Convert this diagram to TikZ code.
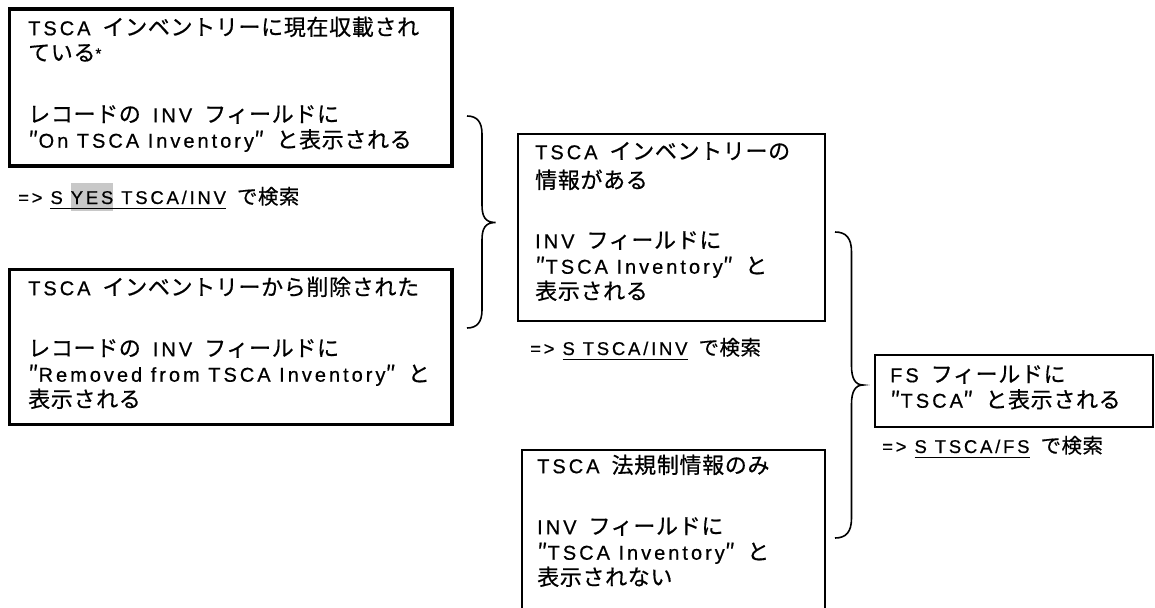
\documentclass[tikz,border=0pt]{standalone}
\usepackage{fontspec}
\setmainfont{Liberation Sans}[LetterSpace=15,FakeBold=0.6]
\newfontfamily\jpf{Noto Sans CJK JP}[Scale=1.1,LetterSpace=3,FakeBold=0.6]
\newcommand\J[1]{{\jpf #1}}
\newcommand\gp{\hspace{0.6em}}
\definecolor{hlgray}{RGB}{200,200,200}
\newcommand\ulx[1]{\setbox0\hbox{#1}\copy0\llap{\rule[-5.2pt]{\wd0}{1.6pt}}}
\newcommand\hlx[1]{\setbox2\hbox{#1}\rlap{\color{hlgray}\rule[-7pt]{\wd2}{28pt}}\box2\relax}
\tikzset{
  thickbox/.style={draw=black, line width=3.8pt, inner sep=0pt, outer sep=0pt, anchor=north west},
  thinbox/.style={draw=black, line width=1.8pt, inner sep=0pt, outer sep=0pt, anchor=north west},
  boxtext/.style={anchor=north west, inner sep=0pt, align=left, font=\fontsize{20}{25.5}\selectfont},
  searchtext/.style={anchor=base west, inner sep=0pt, font=\fontsize{18.5}{22}\selectfont},
  bracepath/.style={draw=black, line width=1.6pt},
}
\newcommand\st{\rule{0pt}{19pt}}
\newcommand\astx{\raisebox{2pt}{\fontsize{15}{15}\selectfont *}}
\begin{document}
\begin{tikzpicture}[x=1pt,y=-1pt]
\path[use as bounding box, fill=white] (0,0) rectangle (1155,607);

% boxes
\node[thickbox, minimum width=442.5pt, minimum height=157pt] (b1) at (9.5,9) {};
\node[thickbox, minimum width=442.5pt, minimum height=155pt] (b2) at (9.5,269.5) {};
\node[thinbox, minimum width=307pt, minimum height=187pt] (b3) at (518,134) {};
\node[thinbox, minimum width=303pt, minimum height=200pt] (b4) at (522,450) {};
\node[thinbox, minimum width=278pt, minimum height=72pt] (b5) at (875,355) {};

% box texts
\node[boxtext] (t1) at (28,16) {\st TSCA\gp\J{インベントリーに現在収載され}\\
\J{ている}\astx\\[36pt]
\J{レコードの}\gp INV\gp\J{フィールドに}\\
\J{″}On TSCA Inventory\J{″}\gp\J{と表示される}};

\node[boxtext] (t2) at (28,276) {\st TSCA\gp\J{インベントリーから削除された}\\[35.5pt]
\J{レコードの}\gp INV\gp\J{フィールドに}\\
\J{″}Removed from TSCA Inventory\J{″}\gp\J{と}\\
\J{表示される}};

\node[boxtext] (t3) at (535,140) {\st TSCA\gp\J{インベントリーの}\\[3.5pt]
\J{情報がある}\\[34.5pt]
INV\gp\J{フィールドに}\\
\J{″}TSCA Inventory\J{″}\gp\J{と}\\
\J{表示される}};

\node[boxtext] (t4) at (537,454) {\st TSCA\gp\J{法規制情報のみ}\\[35.5pt]
INV\gp\J{フィールドに}\\
\J{″}TSCA Inventory\J{″}\gp\J{と}\\
\J{表示されない}};

\node[boxtext] (t5) at (890,363) {\st FS\gp\J{フィールドに}\\
\J{″}TSCA\J{″}\gp\J{と表示される}};

% search lines
\node[searchtext] (s1) at (18,204) {=> \ulx{S \hlx{YES} TSCA/INV}\gp\J{で検索}};
\node[searchtext] (s3) at (530,355) {=> \ulx{S TSCA/INV}\gp\J{で検索}};
\node[searchtext] (s5) at (882,453) {=> \ulx{S TSCA/FS}\gp\J{で検索}};

% braces
\draw[bracepath] (467,116) .. controls (477,116) and (482,122) .. (482,134)
  -- (482,205) .. controls (482,217) and (485.5,222.5) .. (495.5,222.5)
  .. controls (485.5,222.5) and (482,228) .. (482,240)
  -- (482,310) .. controls (482,322) and (477,328) .. (467,328);
\draw[bracepath] (835,232) .. controls (846,232) and (851.5,238) .. (851.5,252)
  -- (851.5,366) .. controls (851.5,378) and (855,385) .. (863,385)
  .. controls (855,385) and (851.5,392) .. (851.5,404)
  -- (851.5,518) .. controls (851.5,532) and (846,538) .. (835,538);
\end{tikzpicture}
\end{document}
